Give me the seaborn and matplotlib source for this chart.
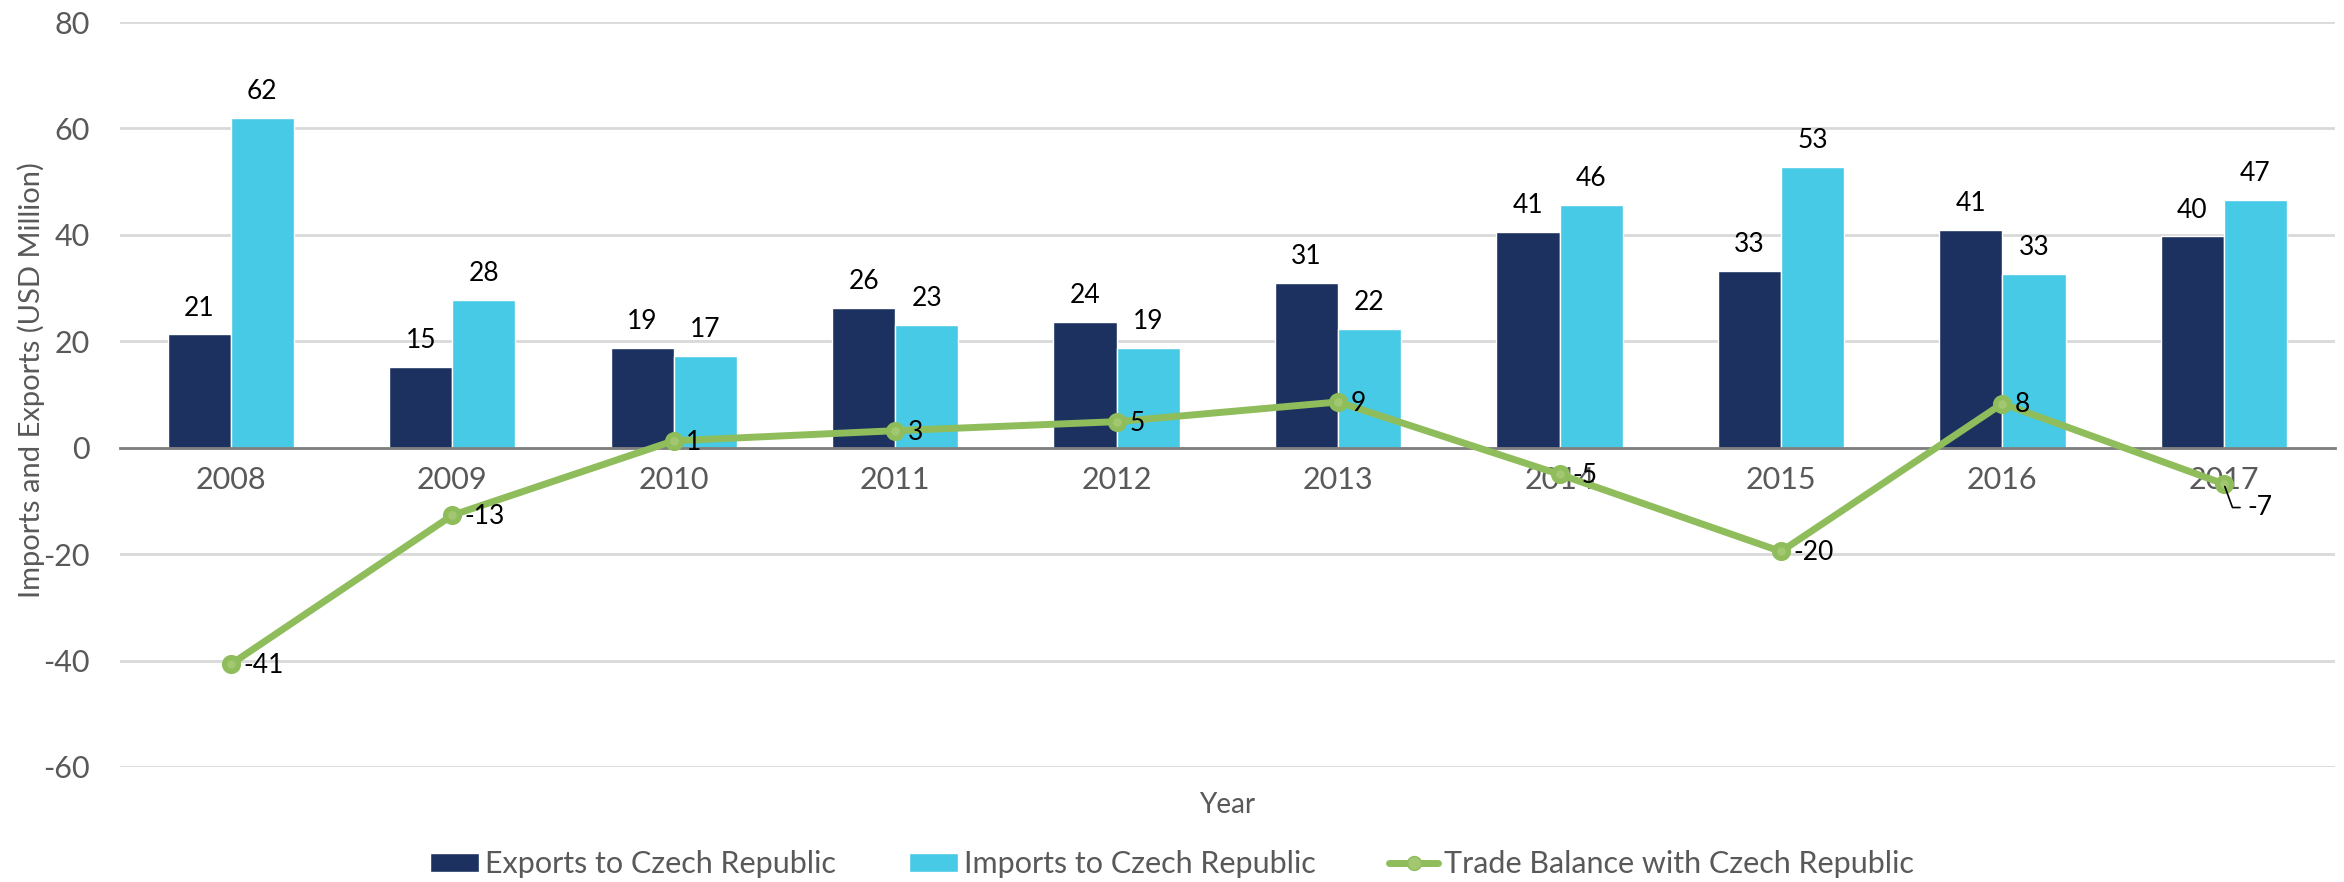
import numpy as np
import pandas as pd
import matplotlib
matplotlib.use('Agg')
import matplotlib.pyplot as plt
import seaborn as sns
from matplotlib.patches import Patch
from matplotlib.lines import Line2D
from matplotlib.ticker import MultipleLocator

# data (USD million)
years = ['2008', '2009', '2010', '2011', '2012', '2013', '2014', '2015', '2016', '2017']
exports = [21.3, 15.1, 18.7, 26.2, 23.7, 31.0, 40.6, 33.3, 40.9, 39.7]
imports = [62.0, 27.8, 17.3, 23.0, 18.8, 22.4, 45.6, 52.8, 32.6, 46.6]
balance = [-40.7, -12.7, 1.3, 3.2, 4.9, 8.6, -5.0, -19.5, 8.3, -6.8]

export_name = 'Exports to Czech Republic'
import_name = 'Imports to Czech Republic'
balance_name = 'Trade Balance with Czech Republic'

navy = '#1c3160'
cyan = '#47cae6'
green = '#8fbd5b'
green_marker = '#a3c770'
grey_text = '#595959'

df = pd.DataFrame({
    'Year': years * 2,
    'Value': exports + imports,
    'Series': [export_name] * len(years) + [import_name] * len(years),
})

sns.set_style('white')
plt.rcParams['font.family'] = ['Lato', 'DejaVu Sans']
plt.rcParams['axes.unicode_minus'] = False

fig = plt.figure(figsize=(23.44, 8.82), dpi=100)
ax = fig.add_axes([0.0512, 0.1304, 0.9448, 0.8446])

sns.barplot(data=df, x='Year', y='Value', hue='Series', order=years,
            palette=[navy, cyan], width=0.57, gap=0, saturation=1,
            legend=False, ax=ax, zorder=2)

for cont in ax.containers:
    ax.bar_label(cont, labels=[f'{v:.0f}' for v in cont.datavalues],
                 padding=10, fontsize=19, color='black')

sns.pointplot(x=years, y=balance, order=years, color=green, linewidth=5,
              markers='o', markersize=10, ax=ax, zorder=4)
for coll in ax.collections:
    coll.set_facecolor(green_marker)
for ln in ax.lines:
    ln.set_markerfacecolor(green_marker)
    ln.set_zorder(4)

# labels for the trade balance line
for i, v in enumerate(balance):
    if years[i] == '2017':
        ax.annotate(f'{v:.0f}', xy=(i, v), xytext=(17, -17), textcoords='offset points',
                    ha='left', va='center', fontsize=19, color='black', zorder=5,
                    arrowprops=dict(arrowstyle='-', color='black', lw=1.2,
                                    connectionstyle='angle,angleA=0,angleB=-70',
                                    shrinkA=3, shrinkB=2))
    else:
        ax.annotate(f'{v:.0f}', xy=(i, v), xytext=(9, -1), textcoords='offset points',
                    ha='left', va='center', fontsize=19, color='black', zorder=5)

ax.set_xlim(-0.5, len(years) - 0.5)
ax.set_ylim(-60, 80)
ax.yaxis.set_major_locator(MultipleLocator(20))
ax.grid(axis='y', color='#d9d9d9', linewidth=2, zorder=0)
ax.set_axisbelow(True)

for side in ['left', 'right', 'top']:
    ax.spines[side].set_visible(False)
ax.spines['bottom'].set_position(('data', 0))
ax.spines['bottom'].set_color('#7f7f7f')
ax.spines['bottom'].set_linewidth(2)
ax.spines['bottom'].set_zorder(3)

ax.set_xticks(np.arange(-0.5, len(years), 1), minor=True)
ax.tick_params(axis='x', which='both', direction='inout', length=18, width=1.5,
               color='#7f7f7f', labelsize=22, labelcolor=grey_text, pad=4)
ax.tick_params(axis='y', length=0, labelsize=22, labelcolor=grey_text, pad=22)

ax.set_xlabel('Year', fontsize=20, color=grey_text)
ax.xaxis.set_label_coords(0.5, -0.033)
ax.set_ylabel('Imports and Exports (USD Million)', fontsize=21, color=grey_text)
ax.yaxis.set_label_coords(-0.034, 0.52)

handles = [
    Patch(facecolor=navy, label=export_name),
    Patch(facecolor=cyan, label=import_name),
    Line2D([], [], color=green, lw=5, marker='o', markersize=10,
           markerfacecolor=green_marker, label=balance_name),
]
fig.legend(handles=handles, loc='center', bbox_to_anchor=(0.5, 0.02), ncol=3,
           frameon=False, fontsize=22, labelcolor=grey_text,
           handlelength=1.6, handleheight=0.55, handletextpad=0.2,
           columnspacing=2.4)

fig.savefig('out.png', dpi=100)
